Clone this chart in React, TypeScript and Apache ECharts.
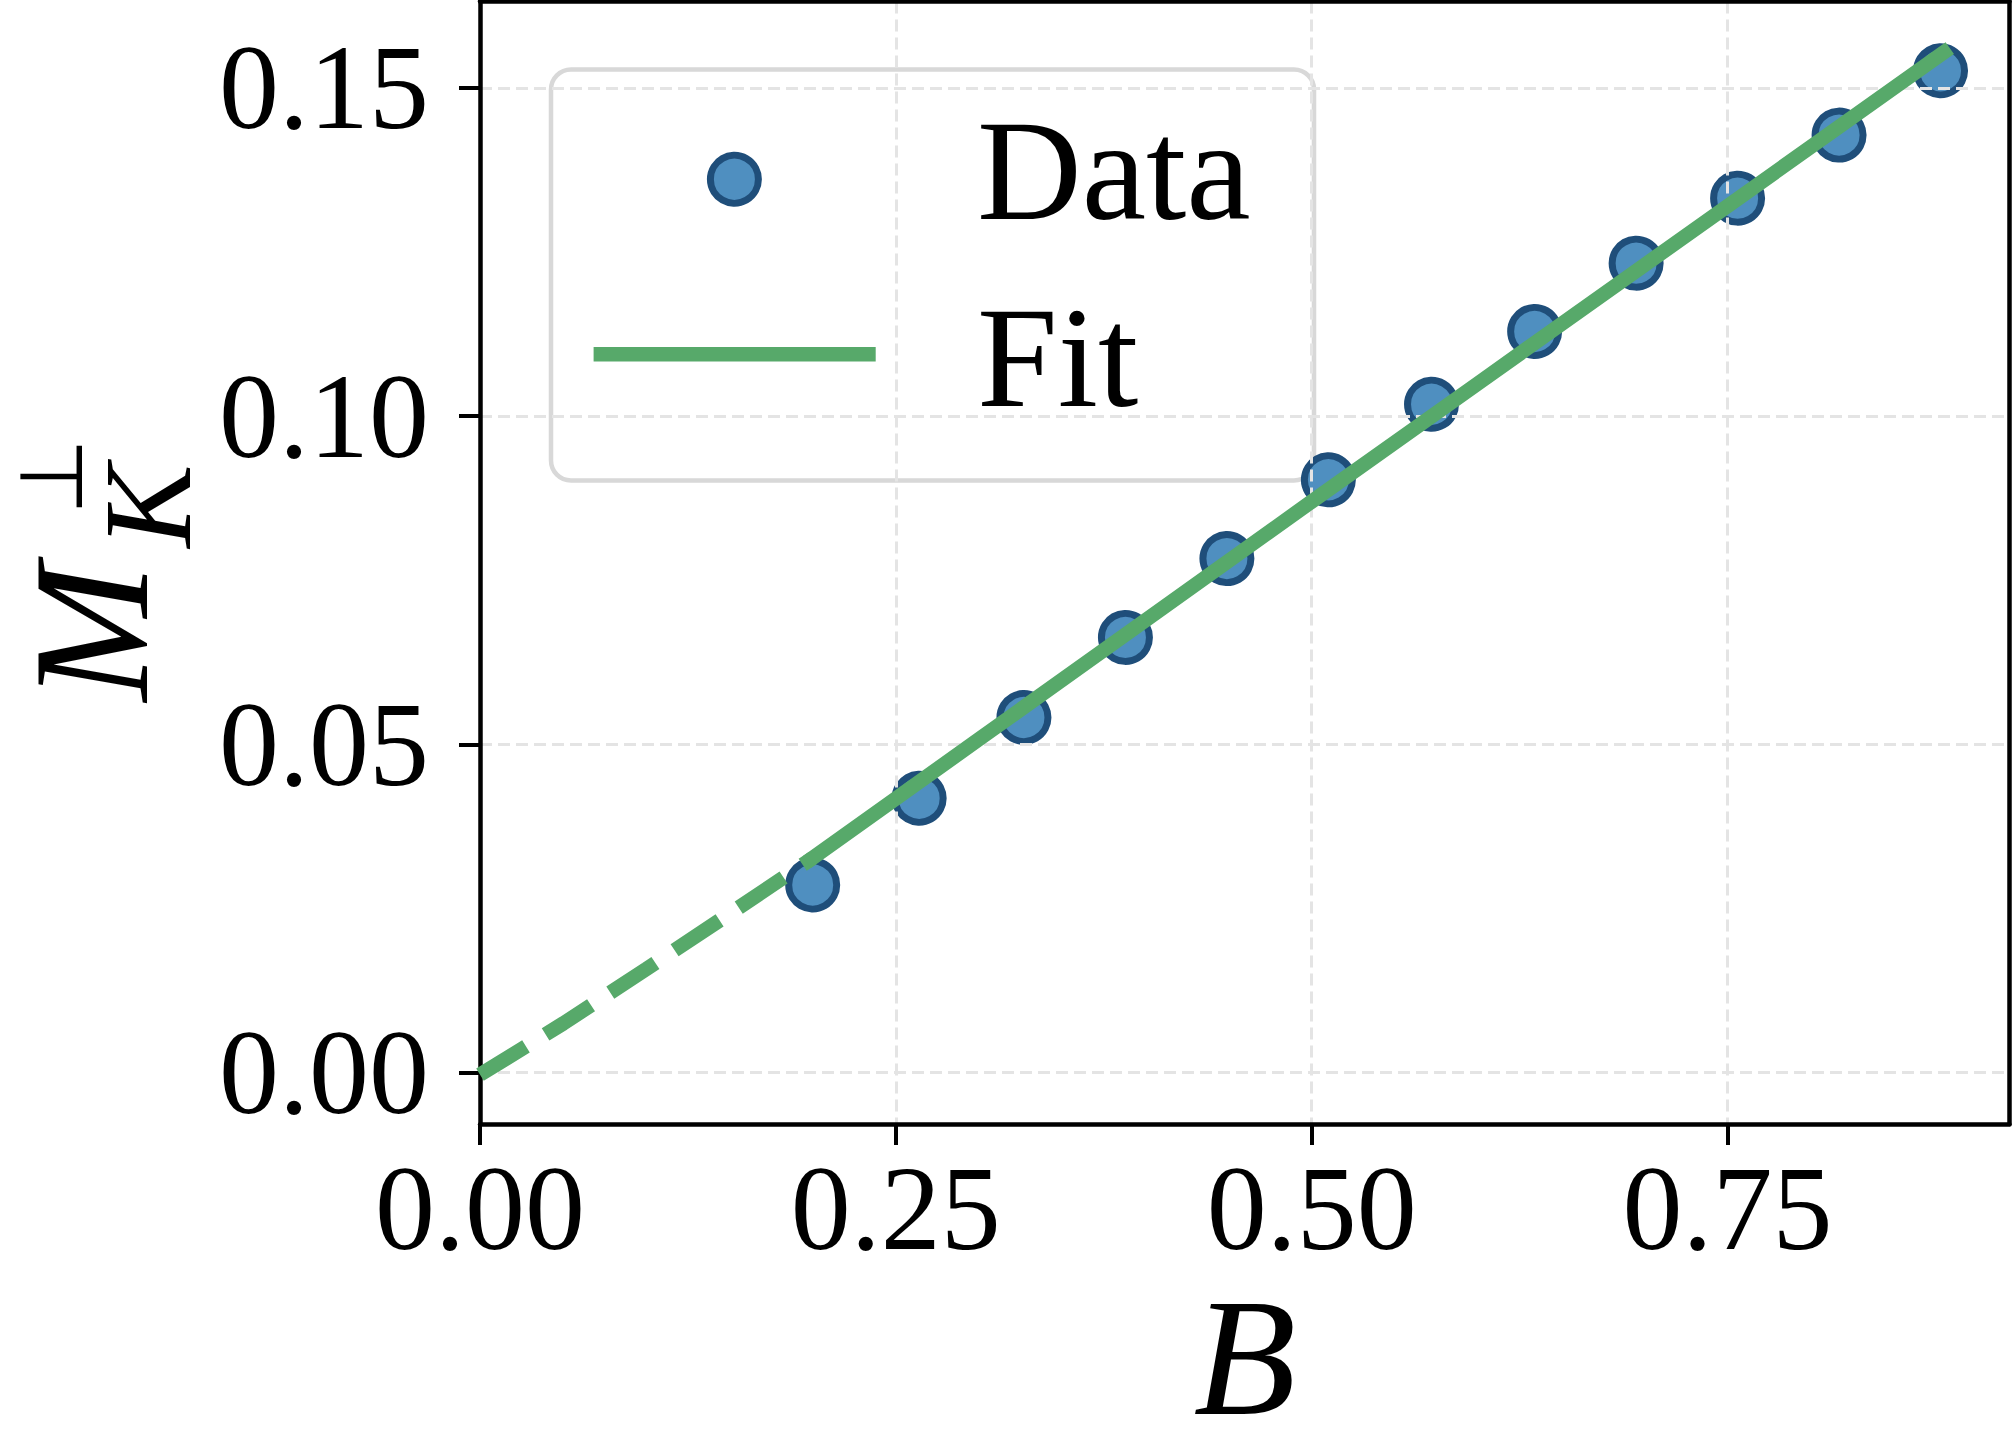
import React, { useEffect, useRef } from "react";
import * as echarts from "echarts";

// ---- data ----
const dataB = [0.2, 0.264, 0.327, 0.388, 0.449, 0.51, 0.572, 0.634, 0.695, 0.756, 0.817, 0.878];
const dataM = [0.0286, 0.0418, 0.0541, 0.0663, 0.0783, 0.0903, 0.1018, 0.1129, 0.1233, 0.1332, 0.1428, 0.1526];
const fitDashedB = [0, 0.05, 0.1, 0.15, 0.2];
const fitDashedM = [-0.0003, 0.0075, 0.0158, 0.0242, 0.0327];
const fitSolidB = [0.2, 0.3, 0.4, 0.5, 0.6, 0.7, 0.8, 0.88];
const fitSolidM = [0.0327, 0.0508, 0.0689, 0.087, 0.105, 0.123, 0.141, 0.1554];
const xTicks = [0, 0.25, 0.5, 0.75];
const yTicks = [0, 0.05, 0.1, 0.15];
const xRange = [0, 0.91945];
const yRange = [-0.007813, 0.16315];
const legendLabels = ["Data", "Fit"];
const xName = "B";
const yNameParts = ["M", "K", "⊥"];

const SERIF = '"Liberation Serif", "Times New Roman", serif';
const BLUE = "#4f8fc0";
const BLUE_EDGE = "#1f4e7a";
const GREEN = "#57a96a";
const GRID = "#e4e4e4";

export default function App() {
  const ref = useRef<HTMLDivElement>(null);

  useEffect(() => {
    if (!ref.current) return;
    const chart = echarts.init(ref.current, undefined, { renderer: "svg" });

    const pairs = (xs: number[], ys: number[]) => xs.map((x, i) => [x, ys[i]]);

    const axisCommon = {
      z: 3,
      axisLine: { show: true, onZero: false, lineStyle: { color: "#000", width: 4.5 } },
    };

    const option: any = {
      animation: false,
      backgroundColor: "#fff",
      grid: {
        left: 480,
        top: 1.5,
        right: 3.5,
        bottom: 327,
        containLabel: false,
        outerBoundsMode: "none",
      },
      xAxis: [
        {
          ...axisCommon,
          type: "value",
          min: xRange[0],
          max: xRange[1],
          position: "bottom",
          axisTick: { show: true, length: 21, lineStyle: { color: "#000", width: 4 }, customValues: xTicks },
          axisLabel: {
            show: true,
            customValues: xTicks,
            margin: 24,
            fontFamily: SERIF,
            fontSize: 120,
            color: "#000",
            formatter: (v: number) => v.toFixed(2),
          },
          splitLine: { show: true, lineStyle: { color: GRID, width: 3, type: [12, 6] } },
          name: xName,
          nameLocation: "middle",
          nameGap: 136,
          nameTextStyle: { fontFamily: SERIF, fontStyle: "italic", fontSize: 168, color: "#000" },
        },
        {
          ...axisCommon,
          type: "value",
          min: xRange[0],
          max: xRange[1],
          position: "top",
          axisTick: { show: false },
          axisLabel: { show: false },
          splitLine: { show: false },
        },
      ],
      yAxis: [
        {
          ...axisCommon,
          type: "value",
          min: yRange[0],
          max: yRange[1],
          position: "left",
          axisTick: { show: true, length: 21, lineStyle: { color: "#000", width: 4 }, customValues: yTicks },
          axisLabel: {
            show: true,
            customValues: yTicks,
            margin: 51,
            fontFamily: SERIF,
            fontSize: 120,
            color: "#000",
            formatter: (v: number) => v.toFixed(2),
          },
          splitLine: { show: true, lineStyle: { color: GRID, width: 3, type: [12, 6] } },
        },
        {
          ...axisCommon,
          type: "value",
          min: yRange[0],
          max: yRange[1],
          position: "right",
          axisTick: { show: false },
          axisLabel: { show: false },
          splitLine: { show: false },
        },
      ],
      series: [
        {
          name: legendLabels[0],
          type: "scatter",
          z: 2,
          xAxisIndex: 0,
          yAxisIndex: 0,
          data: pairs(dataB, dataM),
          symbol: "circle",
          symbolSize: 48,
          itemStyle: { color: BLUE, borderColor: BLUE_EDGE, borderWidth: 7, opacity: 1 },
          silent: true,
        },
        {
          name: legendLabels[1],
          type: "line",
          z: 4,
          xAxisIndex: 0,
          yAxisIndex: 0,
          data: pairs(fitDashedB, fitDashedM),
          symbol: "none",
          showSymbol: false,
          lineStyle: { color: GREEN, width: 14.5, type: [54, 23], cap: "butt" },
          silent: true,
        },
        {
          name: legendLabels[1],
          type: "line",
          z: 4,
          xAxisIndex: 0,
          yAxisIndex: 0,
          data: pairs(fitSolidB, fitSolidM),
          symbol: "none",
          showSymbol: false,
          lineStyle: { color: GREEN, width: 14.5, type: "solid", cap: "square" },
          silent: true,
        },
      ],
      graphic: [
        {
          type: "group",
          z: 100,
          silent: true,
          children: [
            {
              type: "rect",
              shape: { x: 551, y: 69.5, width: 763, height: 411, r: 20 },
              style: { fill: "rgba(255,255,255,0.8)", stroke: "#d8d8d8", lineWidth: 4.5 },
            },
            {
              type: "circle",
              shape: { cx: 734.4, cy: 179.3, r: 24 },
              style: { fill: BLUE, stroke: BLUE_EDGE, lineWidth: 7 },
            },
            {
              type: "line",
              shape: { x1: 593.6, y1: 354.3, x2: 875.7, y2: 354.3 },
              style: { stroke: GREEN, lineWidth: 14.5 },
            },
            {
              type: "text",
              x: 977,
              y: 169.5,
              style: {
                text: legendLabels[0],
                fontFamily: SERIF,
                fontSize: 145,
                fill: "#000",
                align: "left",
                verticalAlign: "middle",
              },
            },
            {
              type: "text",
              x: 977,
              y: 356.7,
              style: {
                text: legendLabels[1],
                fontFamily: SERIF,
                fontSize: 145,
                fill: "#000",
                align: "left",
                verticalAlign: "middle",
              },
            },
          ],
        },
        {
          type: "group",
          x: 147.5,
          y: 717,
          rotation: Math.PI / 2,
          z: 100,
          silent: true,
          children: [
            {
              type: "text",
              x: 84.5,
              y: -55.7,
              style: {
                text: yNameParts[0],
                fontFamily: SERIF,
                fontStyle: "italic",
                fontSize: 165,
                fill: "#000",
                align: "center",
                verticalAlign: "middle",
              },
            },
            {
              type: "text",
              x: 211,
              y: 0.3,
              style: {
                text: yNameParts[1],
                fontFamily: SERIF,
                fontStyle: "italic",
                fontSize: 125,
                fill: "#000",
                align: "center",
                verticalAlign: "middle",
              },
            },
            {
              type: "text",
              x: 240.5,
              y: -96,
              style: {
                text: yNameParts[2],
                fontFamily: '"DejaVu Sans", "DejaVu Serif", sans-serif',
                fontSize: 88,
                fill: "#000",
                align: "center",
                verticalAlign: "middle",
              },
            },
          ],
        },
      ],
    };

    chart.setOption(option);
    return () => chart.dispose();
  }, []);

  return (
    <div
      ref={ref}
      style={{ position: "fixed", left: 0, top: 0, width: 2013, height: 1451, background: "#fff" }}
    />
  );
}
